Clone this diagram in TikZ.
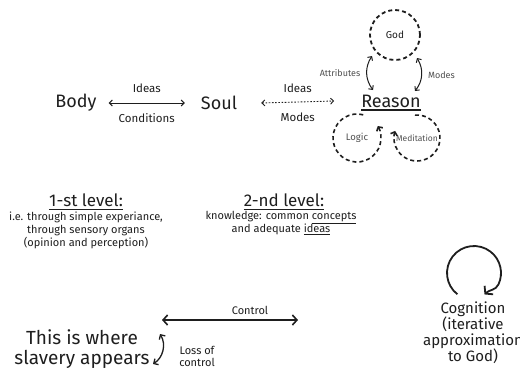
\documentclass[tikz,border=0pt]{standalone}
\usepackage{fontspec}
\setmainfont{Fira Sans}
\usetikzlibrary{arrows.meta}
\definecolor{ink}{HTML}{1E1E1E}
\definecolor{soft}{HTML}{505050}
\begin{document}
\begin{tikzpicture}[x=1pt,y=1pt,
  every node/.style={text=ink, inner sep=0pt},
  big/.style={font=\fontsize{18}{20}\selectfont},
  head/.style={font=\fontsize{17}{19}\selectfont},
  lab/.style={font=\fontsize{11.5}{13}\selectfont},
  desc/.style={font=\fontsize{11}{13}\selectfont, align=center},
  tiny/.style={font=\fontsize{9}{10}\selectfont, text=soft},
  barbs/.style={{Straight Barb[length=3pt,width=6pt]}-{Straight Barb[length=3pt,width=6pt]}},
  bigbarbs/.style={{Straight Barb[length=4.5pt,width=10pt]}-{Straight Barb[length=4.5pt,width=10pt]}},
  link/.style={draw=ink, line width=0.9pt, barbs},
  dotlink/.style={draw=ink, line width=0.9pt, dash pattern=on 1.6pt off 1.6pt, barbs},
  circ/.style={draw=ink, line width=1.8pt, dash pattern=on 4pt off 3pt},
  circarc/.style={draw=ink, line width=1.6pt, dash pattern=on 4pt off 3pt},
  curvy/.style={draw=ink, line width=1pt, barbs},
  strong/.style={draw=ink, line width=1.6pt, bigbarbs}
]
\fill[white] (0,0) rectangle (520,-370);
\useasboundingbox (0,0) rectangle (520,-370);

% top row
\node[big] (body) at (76,-103) {Body};
\node[big] (soul) at (219,-103) {Soul};
\node[big] (reason) at (391,-101) {Reason};
\draw[line width=1.2pt, draw=ink] ([yshift=-3pt]reason.base west) -- ([yshift=-3pt]reason.base east);

\draw[link] ([xshift=12pt]body.east) -- node[lab, above=10pt] {Ideas} node[lab, below=10pt] {Conditions} ([xshift=-16pt]soul.west);
\draw[dotlink] ([xshift=24pt]soul.east) -- node[lab, above=9pt] {Ideas} node[lab, below=10pt] {Modes} ([xshift=-27pt]reason.west);

% God
\node[circ, circle, minimum size=50pt, font=\fontsize{10}{12}\selectfont] (god) at (395,-35) {God};
\coordinate (at1) at (372,-56);
\coordinate (at2) at (373,-90);
\coordinate (mo1) at (417,-58);
\coordinate (mo2) at (415,-91);
\draw[curvy] (at1) to[bend right=35] node[tiny, left=6pt] {Attributes} (at2);
\draw[curvy] (mo1) to[bend left=35] node[tiny, right=6pt] {Modes} (mo2);

% Logic & Meditation
\node[tiny, font=\fontsize{9.5}{11}\selectfont] (logic) at (357,-138) {Logic};
\node[tiny, font=\fontsize{8.5}{10}\selectfont] (medit) at (417,-138) {Meditation};
\draw[circarc, -{Straight Barb[length=3pt,width=7pt]}] (logic.center) ++(75:24) arc[start angle=75, end angle=390, radius=24];
\draw[circarc, -{Straight Barb[length=3pt,width=7pt]}] (medit.center) ++(95:23) arc[start angle=95, end angle=-198, radius=23];

% levels
\node[head] (h1) at (86,-200) {1-st level:};
\draw[line width=0.9pt, draw=ink] ([yshift=-3pt]h1.base west) -- ([yshift=-3pt]h1.base east);
\node[desc, anchor=north] (d1) at (86,-212) {i.e. through simple experiance,\\through sensory organs\\(opinion and perception)};

\node[head] (h2) at (284,-200) {2-nd level:};
\draw[line width=0.9pt, draw=ink] ([yshift=-3pt]h2.base west) -- ([yshift=-3pt]h2.base east);
\node[desc, anchor=north] (d2) at (281,-211) {knowledge: common \underline{concepts}\\and adequate \underline{ideas}};

% control
\coordinate (c1) at (162,-320);
\coordinate (c2) at (298,-320);
\draw[strong] (c1) -- (c2);
\node[lab, font=\fontsize{11}{13}\selectfont] (ctl) at (250,-310) {Control};

\node[align=center, font=\fontsize{19}{20}\selectfont] (slave) at (82,-349.5) {This is where\\slavery appears};
\coordinate (l1) at (160,-334);
\coordinate (l2) at (153,-364);
\draw[draw=ink, line width=1.3pt, {Straight Barb[length=3.5pt,width=7pt]}-{Straight Barb[length=3.5pt,width=7pt]}] (l1) to[bend left=45] (l2);
\node[desc, font=\fontsize{11}{12}\selectfont] (loss) at (197,-356) {Loss of\\control};

% cognition
\coordinate (cg) at (474,-273);
\draw[draw=ink, line width=1.8pt, -{Straight Barb[length=5pt,width=12pt]}] (cg) ++(232:27) arc[start angle=232, end angle=-25, radius=27] to[out=245, in=45] ++(-14,-10);
\node[align=center, font=\fontsize{15}{16}\selectfont, anchor=north] (cog) at (473,-302) {Cognition\\(iterative\\approximation\\to God)};
\end{tikzpicture}
\end{document}
